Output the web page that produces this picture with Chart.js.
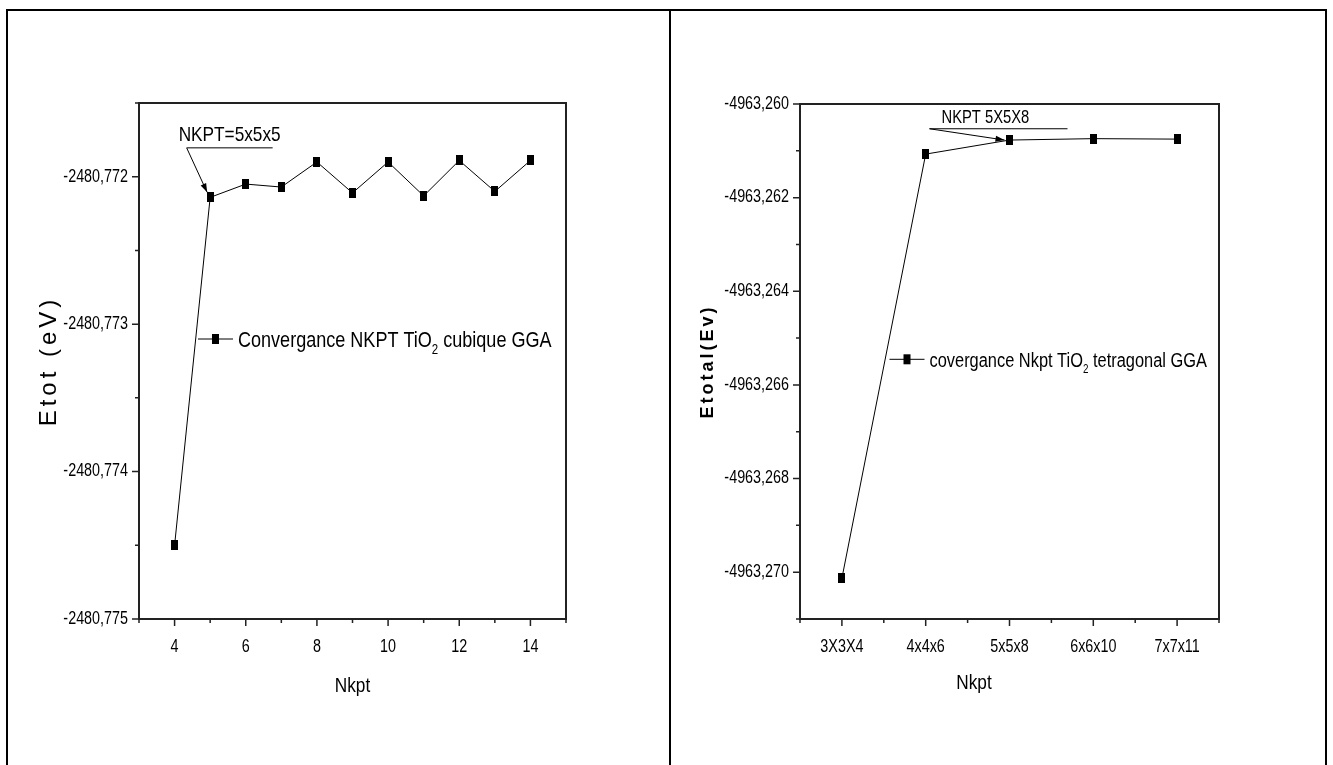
<!DOCTYPE html>
<html>
<head>
<meta charset="utf-8">
<script src="https://cdn.jsdelivr.net/npm/chart.js@4.4.1/dist/chart.umd.min.js"></script>
<style>
body { margin: 0; background: #fff; width: 1333px; height: 765px; overflow: hidden; position: relative; }
#frame { position: absolute; left: 6px; top: 9px; width: 1321px; height: 820px; border: 2px solid #000; box-sizing: border-box; }
#divider { position: absolute; left: 669px; top: 9px; width: 2px; height: 820px; background: #000; }
canvas { position: absolute; top: 0; }
#left { left: 0; }
#right { left: 670px; }
</style>
</head>
<body>
<div id="frame"></div>
<div id="divider"></div>
<canvas id="left" width="670" height="765"></canvas>
<canvas id="right" width="663" height="765"></canvas>
<script>
// cubic TiO2
const leftNkpt = [4, 5, 6, 7, 8, 9, 10, 11, 12, 13, 14];
const leftEtot = [-2480.77450, -2480.77214, -2480.77205, -2480.77207, -2480.77190, -2480.77211,
                  -2480.77190, -2480.77213, -2480.77189, -2480.77210, -2480.77189];
const leftXTicks = [4, 6, 8, 10, 12, 14];
const leftYTicks = [-2480.775, -2480.774, -2480.773, -2480.772];

// tetragonal TiO2
const rightGrid = ['3X3X4', '4x4x6', '5x5x8', '6x6x10', '7x7x11'];
const rightEtot = [-4963.27013, -4963.26107, -4963.26077, -4963.26074, -4963.26075];
const rightYTicks = [-4963.270, -4963.268, -4963.266, -4963.264, -4963.262, -4963.260];

const FONT = '"Liberation Sans", Arial, sans-serif';
const SQUEEZE = 0.82; // no Arial Narrow installed, so squeeze Liberation Sans

function marker() {
    const c = document.createElement('canvas');
    c.width = 7; c.height = 10;
    const g = c.getContext('2d');
    g.fillStyle = '#000';
    g.fillRect(0, 0, 7, 10);
    return c;
}

function minorsOf(major, lo, hi) {
    const step = major[1] - major[0];
    const out = [];
    for (let i = -1; i < major.length; i++) {
        const v = (i < 0 ? major[0] : major[i]) + (i < 0 ? -step / 2 : step / 2);
        if (v >= lo - 1e-9 && v <= hi + 1e-9) out.push(v);
    }
    return out;
}

function comma(v) { return v.toFixed(3).replace('.', ','); }

// narrow text: returns drawn width
function ntext(ctx, text, x, y, size, align, baseline) {
    ctx.save();
    ctx.font = size + 'px ' + FONT;
    ctx.textAlign = align || 'left';
    ctx.textBaseline = baseline || 'alphabetic';
    ctx.fillStyle = '#000';
    ctx.translate(x, y);
    ctx.scale(SQUEEZE, 1);
    ctx.fillText(text, 0, 0);
    const w = ctx.measureText(text).width * SQUEEZE;
    ctx.restore();
    return w;
}

// box, outward ticks (major long, minor short) and tick labels
function boxPlugin(xMajor, xLabels, xMinor, yMajor, yMinor) {
    return {
        id: 'box',
        afterDatasetsDraw(chart) {
            const { ctx, chartArea: a, scales: { x, y } } = chart;
            ctx.save();
            ctx.strokeStyle = '#222';
            ctx.lineWidth = 2;
            ctx.strokeRect(a.left, a.top, a.right - a.left, a.bottom - a.top);
            ctx.lineWidth = 1.5;
            ctx.beginPath();
            xMajor.forEach(v => { const p = x.getPixelForValue(v); ctx.moveTo(p, a.bottom); ctx.lineTo(p, a.bottom + 7); });
            xMinor.forEach(v => { const p = x.getPixelForValue(v); ctx.moveTo(p, a.bottom); ctx.lineTo(p, a.bottom + 4); });
            yMajor.forEach(v => { const p = y.getPixelForValue(v); ctx.moveTo(a.left, p); ctx.lineTo(a.left - 7, p); });
            yMinor.forEach(v => { const p = y.getPixelForValue(v); ctx.moveTo(a.left, p); ctx.lineTo(a.left - 4, p); });
            ctx.stroke();
            ctx.restore();
            xMajor.forEach((v, i) => ntext(ctx, xLabels[i], x.getPixelForValue(v), a.bottom + 28, 17.5, 'center', 'middle'));
            yMajor.forEach(v => ntext(ctx, comma(v), a.left - 11, y.getPixelForValue(v), 17.5, 'right', 'middle'));
        }
    };
}

function arrow(ctx, sx, sy, tx, ty) {
    ctx.beginPath();
    ctx.moveTo(sx, sy);
    ctx.lineTo(tx, ty);
    ctx.stroke();
    const ang = Math.atan2(ty - sy, tx - sx);
    ctx.beginPath();
    ctx.moveTo(tx, ty);
    ctx.lineTo(tx - 9 * Math.cos(ang) + 3 * Math.sin(ang), ty - 9 * Math.sin(ang) - 3 * Math.cos(ang));
    ctx.lineTo(tx - 9 * Math.cos(ang) - 3 * Math.sin(ang), ty - 9 * Math.sin(ang) + 3 * Math.cos(ang));
    ctx.closePath();
    ctx.fill();
}

function legendEntry(ctx, x0, y0, size, before, after) {
    ctx.strokeStyle = '#000';
    ctx.lineWidth = 1;
    ctx.beginPath();
    ctx.moveTo(x0, y0); ctx.lineTo(x0 + 35, y0);
    ctx.stroke();
    ctx.fillStyle = '#000';
    ctx.fillRect(x0 + 14, y0 - 5, 7, 10);
    let tx = x0 + 40;
    const base = y0 + size * 0.36;
    tx += ntext(ctx, before, tx, base, size);
    tx += ntext(ctx, '2', tx, base + size * 0.3, Math.round(size * 0.62));
    ntext(ctx, after, tx, base, size);
}

function titleY(ctx, text, cx, cy, font, spacing) {
    ctx.save();
    ctx.translate(cx, cy);
    ctx.rotate(-Math.PI / 2);
    ctx.font = font;
    ctx.letterSpacing = spacing;
    ctx.textAlign = 'center';
    ctx.textBaseline = 'middle';
    ctx.fillStyle = '#000';
    ctx.fillText(text, 0, 0);
    ctx.restore();
}

const leftDecor = {
    id: 'leftDecor',
    afterDraw(chart) {
        const { ctx, chartArea: a, scales: { x, y } } = chart;
        legendEntry(ctx, a.left + 59, a.top + 236, 22, 'Convergance NKPT TiO', ' cubique GGA');
        // NKPT=5x5x5 callout
        const px = x.getPixelForValue(leftNkpt[1]);
        const py = y.getPixelForValue(leftEtot[1]);
        const sx = px - 23.5, sy = py - 49.5;
        ctx.save();
        ctx.strokeStyle = '#000';
        ctx.fillStyle = '#000';
        ctx.lineWidth = 1;
        ctx.beginPath();
        ctx.moveTo(sx, sy); ctx.lineTo(sx + 86, sy);
        ctx.stroke();
        arrow(ctx, sx, sy, px - 3, py - 5);
        ctx.restore();
        ntext(ctx, 'NKPT=5x5x5', sx - 8, sy - 7, 21);
        titleY(ctx, 'Etot (eV)', 49, (a.top + a.bottom) / 2, '24px ' + FONT, '4px');
        ntext(ctx, 'Nkpt', (a.left + a.right) / 2, 686, 21, 'center', 'middle');
    }
};

const rightDecor = {
    id: 'rightDecor',
    afterDraw(chart) {
        const { ctx, chartArea: a, scales: { x, y } } = chart;
        legendEntry(ctx, a.left + 89.5, a.top + 255.3, 20, 'covergance Nkpt TiO', ' tetragonal GGA');
        const px = x.getPixelForValue(2);
        const py = y.getPixelForValue(rightEtot[2]);
        const sx = px - 80, sy = py - 11.3;
        ctx.save();
        ctx.strokeStyle = '#000';
        ctx.fillStyle = '#000';
        ctx.lineWidth = 1;
        ctx.beginPath();
        ctx.moveTo(sx, sy); ctx.lineTo(sx + 138, sy);
        ctx.stroke();
        arrow(ctx, sx, sy, px - 5, py);
        ctx.restore();
        ntext(ctx, 'NKPT 5X5X8', sx + 12, sy - 5.7, 18);
        titleY(ctx, 'Etotal(Ev)', 38, (a.top + a.bottom) / 2, 'bold 18px ' + FONT, '3px');
        ntext(ctx, 'Nkpt', 304, 683, 21, 'center', 'middle');
    }
};

function axisOpts(min, max, ticks, fit) {
    return {
        type: 'linear', min: min, max: max,
        grid: { display: false, drawTicks: false },
        border: { display: false },
        ticks: { display: false },
        afterBuildTicks: s => { s.ticks = ticks.map(v => ({ value: v })); },
        afterFit: fit
    };
}

new Chart(document.getElementById('left'), {
    type: 'scatter',
    data: {
        datasets: [{
            data: leftNkpt.map((n, i) => ({ x: n, y: leftEtot[i] })),
            showLine: true,
            borderColor: '#000',
            borderWidth: 1,
            pointStyle: marker(),
            pointRadius: 5
        }]
    },
    options: {
        responsive: false,
        animation: false,
        devicePixelRatio: 1,
        layout: { padding: { left: 0, top: 103, right: 104, bottom: 0 } },
        plugins: { legend: { display: false }, tooltip: { enabled: false } },
        scales: {
            x: axisOpts(3, 15, leftXTicks, s => { s.height = 146; }),
            y: axisOpts(-2480.775, -2480.7715, leftYTicks, s => { s.width = 139; })
        }
    },
    plugins: [boxPlugin(leftXTicks, leftXTicks.map(String), minorsOf(leftXTicks, 3, 15),
                        leftYTicks, minorsOf(leftYTicks, -2480.775, -2480.7715)), leftDecor]
});

const rightX = rightGrid.map((g, i) => i);
new Chart(document.getElementById('right'), {
    type: 'scatter',
    data: {
        datasets: [{
            data: rightX.map(i => ({ x: i, y: rightEtot[i] })),
            showLine: true,
            borderColor: '#000',
            borderWidth: 1,
            pointStyle: marker(),
            pointRadius: 5
        }]
    },
    options: {
        responsive: false,
        animation: false,
        devicePixelRatio: 1,
        layout: { padding: { left: 0, top: 104, right: 114, bottom: 0 } },
        plugins: { legend: { display: false }, tooltip: { enabled: false } },
        scales: {
            x: axisOpts(-0.5, 4.5, rightX, s => { s.height = 146; }),
            y: axisOpts(-4963.271, -4963.260, rightYTicks, s => { s.width = 130; })
        }
    },
    plugins: [boxPlugin(rightX, rightGrid, minorsOf(rightX, -0.5, 4.5),
                        rightYTicks, minorsOf(rightYTicks, -4963.271, -4963.260)), rightDecor]
});
</script>
</body>
</html>
